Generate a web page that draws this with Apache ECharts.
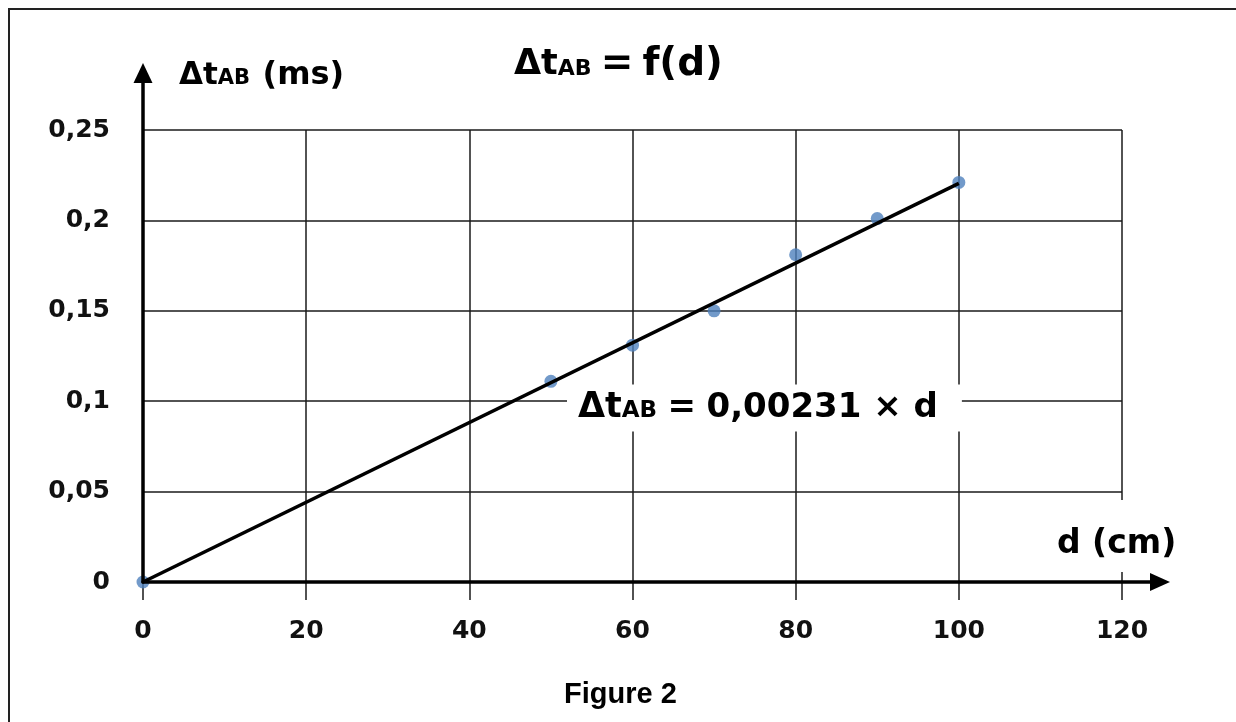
<!DOCTYPE html>
<html><head><meta charset="utf-8">
<script src="https://cdn.jsdelivr.net/npm/echarts@6/dist/echarts.min.js"></script>
<style>
html,body{margin:0;padding:0;background:#fff;overflow:hidden;width:1236px;height:722px;}
#frame{position:absolute;left:8px;top:8px;width:1300px;height:800px;border-left:2px solid #222;border-top:2px solid #222;}
#chart{position:absolute;left:0;top:0;width:1236px;height:722px;}
</style></head><body>
<div id="frame"></div><div id="chart"></div>
<script>
// Measured points: distance d (cm) and time difference Δt_AB (ms)
const distances = [0, 50, 60, 70, 80, 90, 100];
const times = [0, 0.111, 0.131, 0.150, 0.181, 0.201, 0.221];
// Fitted line as drawn in the figure
const fitDistances = [0, 100];
const fitTimes = [0, 0.2205];
// Axis ticks
const xTicks = [0, 20, 40, 60, 80, 100, 120];
const yTicks = [0, 0.05, 0.1, 0.15, 0.2, 0.25];
// Texts
const titleText = ['Δt', 'AB', '=', 'f(d)'];
const yName = ['Δt', 'AB', '(ms)'];
const xName = 'd (cm)';
const equationText = ['Δt', 'AB', '=', '0,00231 × d'];
const captionText = 'Figure 2';

const FONT = 'DejaVu Sans';
const scatterData = distances.map((d, i) => [d, times[i]]);
const fitData = fitDistances.map((d, i) => [d, fitTimes[i]]);
const xStep = xTicks[1] - xTicks[0];
const yStep = yTicks[1] - yTicks[0];

function richSet(big, small, eSize, lh, spSize) {
  const base = {fontFamily: FONT, fontWeight: 'bold', color: '#000', lineHeight: lh};
  return {
    d: Object.assign({}, base, {fontSize: big}),
    s: Object.assign({}, base, {fontSize: small, padding: [Math.round(0.6 * (big - small)), 0, 0, 0]}),
    e: Object.assign({}, base, {fontSize: eSize}),
    sp: Object.assign({}, base, {fontSize: spSize})
  };
}

const chart = echarts.init(document.getElementById('chart'), null, {renderer: 'canvas'});
const gridColor = '#1a1a1a';
chart.setOption({
  animation: false,
  backgroundColor: 'transparent',
  title: [
    {text: '{d|' + titleText[0] + '}{s|' + titleText[1] + '}{sp| }{e|' + titleText[2] + '}{sp| }{e|' + titleText[3] + '}',
     left: 514, top: 42, padding: 0, textStyle: {rich: richSet(35, 22, 39, 46, 26)}},
    {text: '{d|' + yName[0] + '}{s|' + yName[1] + '}{sp|  }{e|' + yName[2] + '}', left: 179, top: 57, padding: 0,
     textStyle: {rich: richSet(31, 21, 32, 38, 18)}},
    {text: '{d|' + equationText[0] + '}{s|' + equationText[1] + '}{sp| }{e|' + equationText[2] + '}{sp| }{e|' + equationText[3] + '}',
     left: 567, top: 380, padding: [6, 24, 6, 11], backgroundColor: '#fff', textStyle: {rich: richSet(35, 23, 34, 44, 30)}},
    {text: xName, left: 1050, top: 500, padding: [24, 6, 7, 7], backgroundColor: '#fff',
     textStyle: {fontFamily: FONT, fontWeight: 'bold', fontSize: 33, lineHeight: 41, color: '#000'}},
    {text: captionText, left: 564, top: 679, padding: 0,
     textStyle: {fontFamily: 'Liberation Sans', fontWeight: 'bold', fontSize: 29, lineHeight: 32, color: '#000'}}
  ],
  grid: [
    {left: 143, top: 130, right: 114, bottom: 140, outerBoundsMode: 'none', containLabel: false},
    {left: 143, top: 73, right: 76, bottom: 140, outerBoundsMode: 'none', containLabel: false}
  ],
  xAxis: [
    {gridIndex: 0, type: 'value', min: xTicks[0], max: xTicks[xTicks.length - 1], interval: xStep,
     axisLine: {show: false},
     axisTick: {show: true, length: 18, lineStyle: {color: gridColor, width: 1.5}},
     axisLabel: {margin: 37, fontFamily: FONT, fontWeight: 'bold', fontSize: 25, color: '#111'},
     splitLine: {show: true, lineStyle: {color: gridColor, width: 1.5}}},
    {gridIndex: 1, type: 'value', min: 0, max: 1, z: 5,
     axisLine: {show: true, onZero: false, symbol: ['none', 'triangle'], symbolSize: [18, 20], lineStyle: {color: '#000', width: 3.5}},
     axisTick: {show: false}, axisLabel: {show: false}, splitLine: {show: false}}
  ],
  yAxis: [
    {gridIndex: 0, type: 'value', min: yTicks[0], max: yTicks[yTicks.length - 1], interval: yStep,
     axisLine: {show: false}, axisTick: {show: false},
     axisLabel: {margin: 33, fontFamily: FONT, fontWeight: 'bold', fontSize: 25, color: '#111',
                 formatter: v => String(+v.toFixed(2)).replace('.', ',')},
     splitLine: {show: true, lineStyle: {color: gridColor, width: 1.5}}},
    {gridIndex: 1, type: 'value', min: 0, max: 1, z: 5,
     axisLine: {show: true, onZero: false, symbol: ['none', 'triangle'], symbolSize: [19, 20], lineStyle: {color: '#000', width: 3.5}},
     axisTick: {show: false}, axisLabel: {show: false}, splitLine: {show: false}}
  ],
  series: [
    {type: 'scatter', xAxisIndex: 0, yAxisIndex: 0, data: scatterData, symbolSize: 13, clip: false,
     itemStyle: {color: '#4F81BD'}, z: 2},
    {type: 'line', xAxisIndex: 0, yAxisIndex: 0, data: fitData, showSymbol: false, symbol: 'none', clip: false,
     lineStyle: {color: '#000', width: 3.5}, z: 3}
  ]
});
</script>
</body></html>
